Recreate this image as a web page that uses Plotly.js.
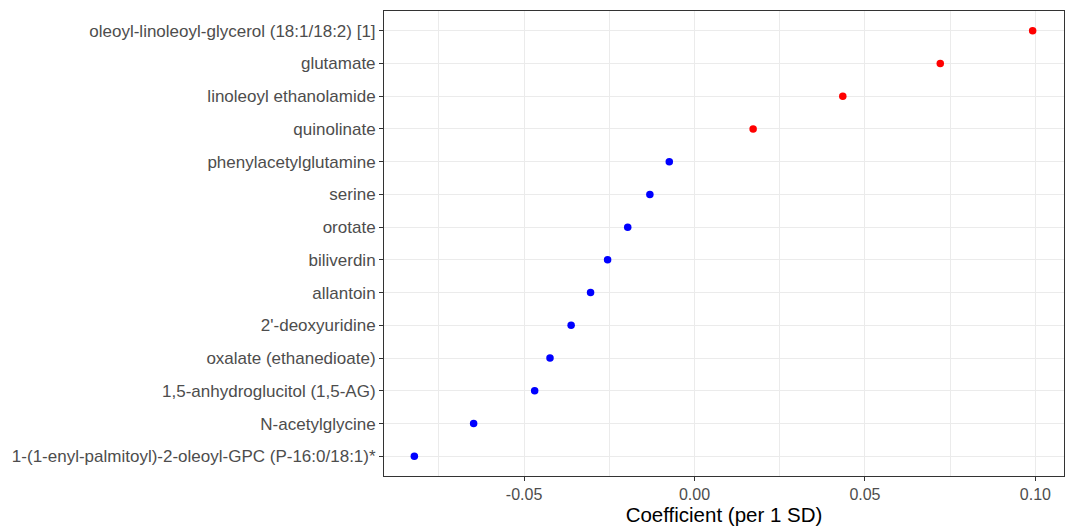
<!DOCTYPE html>
<html>
<head>
<meta charset="utf-8">
<script src="https://cdn.plot.ly/plotly-3.0.1.min.js"></script>
<style>html,body{margin:0;padding:0;background:#fff;}#chart{width:1068px;height:528px;}</style>
</head>
<body>
<div id="chart"></div>
<script>
// Metabolites, ordered from top to bottom as shown
const metabolites = [
  "oleoyl-linoleoyl-glycerol (18:1/18:2) [1]",
  "glutamate",
  "linoleoyl ethanolamide",
  "quinolinate",
  "phenylacetylglutamine",
  "serine",
  "orotate",
  "biliverdin",
  "allantoin",
  "2'-deoxyuridine",
  "oxalate (ethanedioate)",
  "1,5-anhydroglucitol (1,5-AG)",
  "N-acetylglycine",
  "1-(1-enyl-palmitoyl)-2-oleoyl-GPC (P-16:0/18:1)*"
];
const coefficients = [0.0992, 0.0721, 0.0435, 0.0172, -0.0074, -0.0131, -0.0196, -0.0255, -0.0305, -0.0362, -0.0424, -0.0469, -0.0648, -0.0822];
const xTickVals = [-0.05, 0.00, 0.05, 0.10];
const xTickText = ["-0.05", "0.00", "0.05", "0.10"];

const colors = coefficients.map(v => v > 0 ? "#ff0000" : "#0000ff");

const trace = {
  type: "scatter",
  mode: "markers",
  x: coefficients,
  y: metabolites,
  marker: {color: colors, size: 7.5, line: {width: 0}},
  hoverinfo: "x+y",
  cliponaxis: false
};

const layout = {
  width: 1068,
  height: 528,
  margin: {l: 384, r: 4, t: 11, b: 52},
  paper_bgcolor: "#ffffff",
  plot_bgcolor: "#ffffff",
  font: {family: "Liberation Sans, Arial, sans-serif", color: "#4d4d4d", size: 14},
  showlegend: false,
  xaxis: {
    range: [-0.0911, 0.1084],
    tickvals: xTickVals,
    ticktext: xTickText,
    ticks: "outside",
    ticklen: 4,
    tickwidth: 1,
    tickcolor: "#333333",
    tickfont: {size: 16, color: "#4d4d4d"},
    showgrid: true,
    gridcolor: "#ebebeb",
    gridwidth: 1,
    minor: {dtick: 0.025, tick0: 0.025, showgrid: true, gridcolor: "#ebebeb", gridwidth: 1, ticks: ""},
    zeroline: false,
    showline: true,
    mirror: true,
    linecolor: "#333333",
    linewidth: 1,
    title: {text: "Coefficient (per 1 SD)", font: {size: 20.5, color: "#000000"}, standoff: 5}
  },
  yaxis: {
    type: "category",
    categoryorder: "array",
    categoryarray: metabolites.slice().reverse(),
    range: [-0.6, 13.6],
    ticks: "outside",
    ticklen: 4,
    tickwidth: 1,
    tickcolor: "#333333",
    tickfont: {size: 17, color: "#4d4d4d"},
    showgrid: true,
    gridcolor: "#ebebeb",
    gridwidth: 1,
    zeroline: false,
    showline: true,
    mirror: true,
    linecolor: "#333333",
    linewidth: 1
  }
};

Plotly.newPlot("chart", [trace], layout, {displayModeBar: false, staticPlot: true});
</script>
</body>
</html>
